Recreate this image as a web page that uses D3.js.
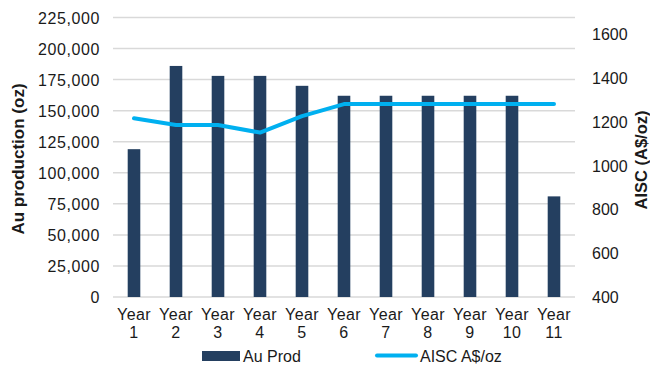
<!DOCTYPE html>
<html>
<head>
<meta charset="utf-8">
<script src="https://cdn.jsdelivr.net/npm/d3@7"></script>
<style>
  html, body { margin: 0; padding: 0; background: #fff; }
  text { font-family: "Liberation Sans", Arial, sans-serif; fill: #1a1a1a; }
</style>
</head>
<body>
<svg id="chart" width="650" height="366"></svg>
<script>
// Gold production schedule and all-in sustaining cost by year
const categories = ["Year 1","Year 2","Year 3","Year 4","Year 5","Year 6","Year 7","Year 8","Year 9","Year 10","Year 11"];
const auProd = [119000, 186000, 178000, 178000, 170000, 162000, 162000, 162000, 162000, 162000, 81000];
const aisc = [1215, 1185, 1185, 1150, 1225, 1280, 1280, 1280, 1280, 1280, 1280];
const leftTicks = [0, 25000, 50000, 75000, 100000, 125000, 150000, 175000, 200000, 225000];
const rightTicks = [400, 600, 800, 1000, 1200, 1400, 1600];

const svg = d3.select("#chart");
const plot = { left: 113, right: 575, top: 17.5, bottom: 297 };

const x = d3.scaleBand().domain(categories)
  .range([plot.left, plot.right]).paddingInner(0.7).paddingOuter(0.35);
const yL = d3.scaleLinear().domain([0, 225000]).range([plot.bottom, plot.top]);
const yR = d3.scaleLinear().domain([400, 1675]).range([plot.bottom, plot.top]);

// gridlines
svg.append("g").selectAll("line").data(leftTicks).join("line")
  .attr("x1", plot.left).attr("x2", plot.right)
  .attr("y1", d => yL(d)).attr("y2", d => yL(d))
  .attr("stroke", "#d9d9d9").attr("stroke-width", 1.5);

// left axis
const axL = svg.append("g").attr("transform", `translate(${plot.left - 13},0)`)
  .call(d3.axisLeft(yL).tickValues(leftTicks).tickFormat(d3.format(",")).tickSize(0).tickPadding(0));
axL.select(".domain").remove();
axL.selectAll("text").attr("font-size", 16).attr("dy", "0.35em").style("letter-spacing", "0.6px");

// right axis
const axR = svg.append("g").attr("transform", `translate(${plot.right + 17},0)`)
  .call(d3.axisRight(yR).tickValues(rightTicks).tickFormat(d3.format("d")).tickSize(0).tickPadding(0));
axR.select(".domain").remove();
axR.selectAll("text").attr("font-size", 16).attr("dy", "0.35em");

// bars
svg.append("g").selectAll("rect").data(categories).join("rect")
  .attr("x", d => x(d)).attr("width", x.bandwidth())
  .attr("y", (d, i) => yL(auProd[i]))
  .attr("height", (d, i) => yL(0) - yL(auProd[i]))
  .attr("fill", "#243f60");

// AISC line
const line = d3.line()
  .x((d, i) => x(categories[i]) + x.bandwidth() / 2)
  .y(d => yR(d));
svg.append("path").datum(aisc)
  .attr("d", line).attr("fill", "none")
  .attr("stroke", "#00b0f0").attr("stroke-width", 4)
  .attr("stroke-linecap", "round").attr("stroke-linejoin", "round");

// category labels, two lines each
const cat = svg.append("g").selectAll("text").data(categories).join("text")
  .attr("text-anchor", "middle").attr("font-size", 16)
  .style("letter-spacing", "0.4px");
cat.append("tspan").attr("x", d => x(d) + x.bandwidth() / 2).attr("y", 320)
  .text(d => d.split(" ")[0]);
cat.append("tspan").attr("x", d => x(d) + x.bandwidth() / 2).attr("y", 338)
  .text(d => d.split(" ")[1]);

// axis titles
svg.append("text").attr("transform", "translate(24,159) rotate(-90)")
  .attr("text-anchor", "middle").attr("font-size", 17).attr("font-weight", "bold")
  .text("Au production (oz)");
svg.append("text").attr("transform", "translate(647,160) rotate(-90)")
  .attr("text-anchor", "middle").attr("font-size", 16.5).attr("font-weight", "bold")
  .text("AISC (A$/oz)");

// legend
const lg = svg.append("g");
lg.append("rect").attr("x", 202).attr("y", 351).attr("width", 38).attr("height", 10).attr("fill", "#243f60");
lg.append("text").attr("x", 243).attr("y", 362).attr("font-size", 16).text("Au Prod");
lg.append("line").attr("x1", 377).attr("x2", 416).attr("y1", 355.5).attr("y2", 355.5)
  .attr("stroke", "#00b0f0").attr("stroke-width", 4).attr("stroke-linecap", "round");
lg.append("text").attr("x", 420).attr("y", 362).attr("font-size", 16).text("AISC A$/oz");
</script>
</body>
</html>
